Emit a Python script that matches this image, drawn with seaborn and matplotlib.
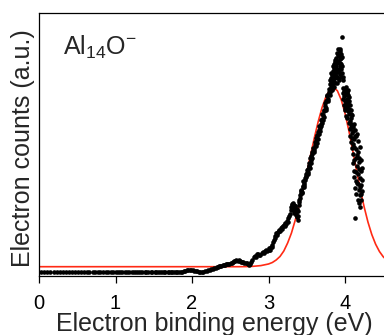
import matplotlib
matplotlib.use("Agg")
import numpy as np
import pandas as pd
import matplotlib.pyplot as plt
import seaborn as sns

# flat low-energy part of the spectrum
base_x = [0.03, 0.07, 0.11, 0.15, 0.19, 0.23, 0.27, 0.31, 0.35, 0.39,
          0.43, 0.47, 0.51, 0.55, 0.59, 0.63, 0.66, 0.70, 0.73, 0.77,
          0.80, 0.84, 0.87, 0.90, 0.94, 0.97, 1.00, 1.03, 1.06, 1.09,
          1.12, 1.15, 1.18, 1.21, 1.24, 1.27, 1.30, 1.32, 1.35, 1.38,
          1.40, 1.43, 1.46, 1.48, 1.51, 1.53, 1.56, 1.58, 1.61, 1.63,
          1.65, 1.68, 1.70, 1.72, 1.74, 1.77, 1.79]
base_y = [4.4, 4.2, 4.3, 4.5, 4.3, 4.1, 4.4, 4.3, 4.2, 4.4,
          4.3, 4.5, 4.2, 4.3, 4.4, 4.1, 4.3, 4.4, 4.2, 4.3,
          4.4, 4.3, 4.2, 4.5, 4.3, 4.1, 4.3, 4.4, 4.2, 4.3,
          4.2, 4.4, 4.3, 4.1, 4.3, 4.2, 4.4, 4.0, 4.2, 4.3,
          4.1, 4.2, 3.9, 4.1, 4.0, 3.8, 4.0, 3.9, 3.7, 3.9,
          3.8, 3.6, 3.8, 3.9, 3.7, 4.0, 4.3]

# onset region
onset_x = [1.81, 1.83, 1.85, 1.87, 1.89, 1.91, 1.93, 1.95, 1.97, 1.99,
           2.01, 2.03, 2.05, 2.07, 2.09, 2.11, 2.13, 2.15, 2.17, 2.19,
           2.21, 2.23, 2.25, 2.27, 2.29,
           2.310, 2.325, 2.340, 2.355, 2.370, 2.385, 2.400, 2.415, 2.430, 2.445,
           2.460, 2.475, 2.490, 2.505, 2.520, 2.535, 2.550, 2.565, 2.580, 2.595,
           2.610, 2.625, 2.640, 2.655, 2.670, 2.685, 2.700, 2.715, 2.730, 2.745,
           2.760, 2.775, 2.790, 2.805, 2.820, 2.835, 2.850, 2.865, 2.880, 2.895,
           2.910, 2.925, 2.940, 2.955, 2.970, 2.985]
onset_y = [3.8, 3.9, 4.1, 4.4, 4.8, 5.2, 5.7, 6.1, 6.4, 6.2,
           5.8, 5.3, 4.9, 4.6, 4.4, 4.3, 4.2, 4.4, 4.7, 5.1,
           5.6, 6.2, 6.9, 7.5, 8.1,
           8.4, 8.9, 9.2, 9.8, 9.9, 10.3, 10.6, 11.2, 10.9, 11.6,
           12.0, 11.8, 12.5, 13.1, 13.4, 14.0, 14.6, 15.2, 15.8, 15.4,
           15.9, 15.1, 14.5, 13.6, 13.9, 13.0, 12.6, 12.9, 11.6, 11.2,
           12.1, 13.8, 16.5, 18.6, 20.4, 19.2, 21.8, 22.5, 20.9, 21.4,
           22.8, 24.1, 23.2, 24.6, 25.8, 24.9]

# rising edge of the band
rise_x = [3.00, 3.01, 3.02, 3.03, 3.04, 3.05, 3.06, 3.07, 3.08, 3.09,
          3.10, 3.11, 3.12, 3.13, 3.14, 3.15, 3.16, 3.17, 3.18, 3.19,
          3.20, 3.21, 3.22, 3.23, 3.24, 3.25, 3.26, 3.27, 3.28, 3.29,
          3.30, 3.31, 3.32, 3.33, 3.34, 3.35, 3.36, 3.37, 3.38, 3.39,
          3.40, 3.41, 3.42, 3.43, 3.44, 3.45, 3.46, 3.47, 3.48, 3.49,
          3.50, 3.51, 3.52, 3.53, 3.54, 3.55, 3.56, 3.57, 3.58, 3.59,
          3.60, 3.61, 3.62, 3.63, 3.64, 3.65, 3.66, 3.67, 3.68, 3.69,
          3.70, 3.71, 3.72, 3.73, 3.74, 3.75, 3.76, 3.77, 3.78, 3.79,
          3.305, 3.315, 3.325, 3.335, 3.345, 3.355, 3.365, 3.375, 3.385, 3.395,
          3.405, 3.415, 3.425, 3.435, 3.445, 3.455, 3.465, 3.475, 3.485, 3.495,
          3.505, 3.515, 3.525, 3.535, 3.545, 3.555, 3.565, 3.575, 3.585, 3.595,
          3.605, 3.615, 3.625, 3.635, 3.645, 3.655, 3.665, 3.675, 3.685, 3.695,
          3.705, 3.715, 3.725, 3.735, 3.745, 3.755, 3.765, 3.775, 3.785, 3.795]
rise_y = [26.5, 27.8, 26.1, 28.9, 29.5, 31.2, 33.8, 36.0, 38.4, 40.1,
          42.6, 41.2, 44.5, 43.8, 46.3, 45.1, 47.9, 48.6, 47.2, 50.3,
          51.1, 49.6, 53.0, 52.4, 55.2, 54.1, 57.8, 60.2, 62.5, 66.1,
          69.4, 72.0, 67.3, 71.1, 65.8, 69.7, 63.2, 59.5, 64.8, 56.4,
          73.6, 78.2, 82.9, 86.4, 84.1, 90.5, 93.2, 91.0, 97.6, 100.2,
          103.5, 101.8, 106.9, 110.4, 108.2, 115.6, 120.3, 118.1, 124.7, 127.9,
          126.0, 131.5, 135.2, 133.4, 139.8, 144.1, 141.6, 147.9, 152.3, 150.1,
          157.4, 161.2, 158.8, 166.5, 170.3, 168.0, 175.6, 179.9, 177.2, 184.1,
          70.8, 66.2, 73.5, 62.9, 70.4, 66.5, 61.0, 66.9, 60.3, 71.2,
          76.4, 81.1, 85.3, 82.7, 88.6, 95.1, 89.4, 95.8, 102.4, 98.7,
          106.1, 104.2, 109.6, 113.3, 117.8, 113.5, 123.6, 121.9, 128.4, 124.2,
          133.7, 129.6, 137.9, 141.3, 136.8, 146.5, 149.7, 145.2, 155.8, 153.4,
          161.9, 156.1, 164.8, 172.6, 166.2, 174.9, 181.3, 175.4, 186.8, 182.5]

# peak top
peak_x = [3.800, 3.804, 3.808, 3.812, 3.816, 3.820, 3.824, 3.828, 3.832, 3.836,
          3.840, 3.844, 3.848, 3.852, 3.856, 3.860, 3.864, 3.868, 3.872, 3.876,
          3.880, 3.884, 3.888, 3.892, 3.896, 3.900, 3.904, 3.908, 3.912, 3.916,
          3.920, 3.924, 3.928, 3.932, 3.936, 3.940, 3.944, 3.948, 3.952, 3.956,
          3.960, 3.964, 3.968, 3.972, 3.976, 3.980, 3.984, 3.988, 3.992, 3.996,
          3.802, 3.810, 3.818, 3.826, 3.834, 3.842, 3.850, 3.858, 3.866, 3.874,
          3.882, 3.890, 3.898, 3.906, 3.914, 3.922, 3.930, 3.938, 3.946, 3.954,
          3.962, 3.970]
peak_y = [186.5, 192.3, 183.9, 195.1, 189.4, 198.2, 186.7, 193.6, 201.4, 190.8,
          205.3, 196.1, 199.7, 208.2, 194.5, 211.6, 202.3, 197.8, 214.1, 205.9,
          200.4, 218.3, 209.7, 193.2, 212.8, 203.6, 221.4, 198.1, 215.5, 207.2,
          196.4, 219.8, 210.3, 224.6, 201.9, 216.7, 206.8, 222.1, 212.4, 238.7,
          203.3, 218.9, 196.2, 188.4, 182.6, 176.9, 185.3, 171.2, 179.8, 168.5,
          195.8, 181.2, 202.6, 191.4, 185.9, 210.4, 189.3, 203.8, 216.5, 192.7,
          207.4, 222.9, 199.5, 213.7, 226.8, 204.1, 213.2, 227.4, 198.7, 218.2,
          209.6, 199.0]

# falling edge, where the data stop
fall_x = [4.000, 4.004, 4.008, 4.012, 4.016, 4.020, 4.024, 4.028, 4.032, 4.036,
          4.040, 4.044, 4.048, 4.052, 4.056, 4.060, 4.064, 4.068, 4.072, 4.076,
          4.080, 4.084, 4.088, 4.092, 4.096, 4.100, 4.104, 4.108, 4.112, 4.116,
          4.120, 4.124, 4.128, 4.132, 4.135, 4.138, 4.142, 4.146, 4.150, 4.154,
          4.158, 4.162, 4.166, 4.170, 4.174, 4.178, 4.182, 4.186, 4.190, 4.194,
          4.198, 4.202, 4.206, 4.210, 4.214, 4.218, 4.222,
          4.002, 4.010, 4.018, 4.026, 4.034, 4.042, 4.050, 4.058, 4.066, 4.074,
          4.082, 4.090, 4.098, 4.106, 4.114, 4.122, 4.130, 4.140, 4.148, 4.156,
          4.164, 4.172, 4.180, 4.188, 4.196, 4.204, 4.212, 4.220]
fall_y = [181.2, 166.4, 185.7, 172.9, 160.3, 183.5, 169.1, 176.8, 158.4, 186.2,
          164.7, 174.3, 152.6, 179.5, 161.8, 147.2, 170.6, 139.9, 158.1, 166.3,
          134.5, 151.7, 143.2, 128.4, 160.9, 121.6, 145.3, 112.8, 137.4, 98.6,
          129.1, 104.7, 146.2, 88.3, 57.7, 118.5, 95.1, 139.6, 82.4, 110.2,
          141.8, 92.7, 76.5, 124.3, 101.9, 86.1, 113.6, 72.8, 98.4, 128.7,
          81.3, 69.5, 105.2, 90.6, 75.9, 96.3, 84.7,
          174.6, 189.1, 176.2, 183.9, 171.5, 180.6, 167.3, 175.1, 154.8, 148.6,
          162.4, 138.1, 148.9, 131.7, 152.3, 116.4, 140.5, 127.2, 103.6, 121.4,
          134.9, 91.8, 117.9, 107.3, 89.2, 115.8, 82.1, 108.4]

# fitted curve
fit_x = [0.0, 2.6, 2.7, 2.8, 2.9, 3.0, 3.05, 3.1, 3.15, 3.2, 3.25, 3.3, 3.35,
         3.4, 3.45, 3.5, 3.55, 3.6, 3.65, 3.7, 3.75, 3.8, 3.85, 3.9, 3.95,
         4.0, 4.05, 4.1, 4.15, 4.2, 4.25, 4.3, 4.35, 4.4, 4.45, 4.5, 4.55, 4.6]
fit_y = [9.3, 9.3, 9.4, 9.7, 10.4, 12.0, 13.5, 16.0, 19.5, 25.0, 33.0, 43.0, 56.0,
         70.5, 86.5, 103.5, 121.0, 138.5, 154.5, 168.5, 179.2, 186.0, 188.3, 185.3, 176.4,
         162.7, 145.4, 125.9, 105.9, 86.6, 69.1, 53.9, 41.5, 31.8, 24.5, 19.2, 15.5, 13.0]

xticks = [0, 1, 2, 3, 4]

dots = pd.DataFrame({
    "energy": base_x + onset_x + rise_x + peak_x + fall_x,
    "counts": base_y + onset_y + rise_y + peak_y + fall_y,
})
fit = pd.DataFrame({"energy": fit_x, "counts": fit_y})

sns.set_style("ticks")
plt.rcParams["font.family"] = ["Liberation Sans", "DejaVu Sans"]
plt.rcParams["mathtext.fontset"] = "custom"
plt.rcParams["mathtext.rm"] = "Liberation Sans"
plt.rcParams["mathtext.it"] = "Liberation Sans:italic"

fig = plt.figure(figsize=(3.84, 3.35), dpi=100)
ax = fig.add_axes([39 / 384, 1 - 276 / 335, 350 / 384, 263 / 335])

sns.lineplot(data=fit, x="energy", y="counts", ax=ax, color="#ff2a14",
             linewidth=1.2, sort=False, estimator=None, zorder=1)
sns.scatterplot(data=dots, x="energy", y="counts", ax=ax, color="black",
                s=11, linewidth=0, zorder=2)

ax.set_xlim(0, 4.575)
ax.set_ylim(0, 263)
ax.set_xticks(xticks)
ax.set_xticklabels([str(t) for t in xticks])
ax.set_yticks([])
ax.tick_params(axis="x", direction="out", length=5, width=0.9,
               labelsize=14.5, pad=8, colors="black")
for sp in ax.spines.values():
    sp.set_linewidth(0.9)
    sp.set_color("black")

ax.set_xlabel("Electron binding energy (eV)", fontsize=18)
ax.set_ylabel("Electron counts (a.u.)", fontsize=18)
ax.xaxis.set_label_coords(0.5, -0.137)
ax.yaxis.set_label_coords(-0.012, 0.487)

ax.text(0.069, 0.840, r"Al$_{\mathrm{14}}$O$^{-}$", transform=ax.transAxes,
        fontsize=18, va="baseline", ha="left")

fig.savefig("out.png", dpi=100)
